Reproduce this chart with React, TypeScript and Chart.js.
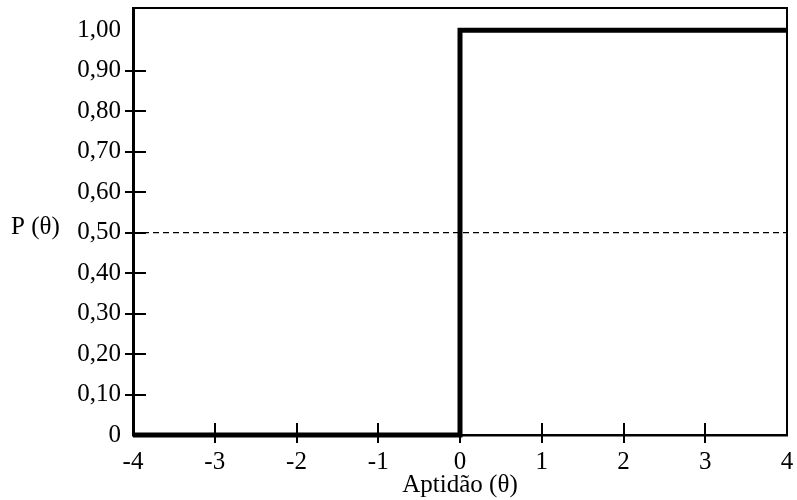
import React, { useEffect, useRef } from "react";
import { Chart, registerables } from "chart.js";

Chart.register(...registerables);

const stepX = [-4, 0, 0, 4];
const stepY = [0, 0, 1, 1];
const refX = [-4, 4];
const refY = [0.5, 0.5];
const xTicks = [-4, -3, -2, -1, 0, 1, 2, 3, 4];
const xTickLabels = ["-4", "-3", "-2", "-1", "0", "1", "2", "3", "4"];
const yTicks = [0, 0.1, 0.2, 0.3, 0.4, 0.5, 0.6, 0.7, 0.8, 0.9, 1.0];
const yTickLabels = ["0", "0,10", "0,20", "0,30", "0,40", "0,50", "0,60", "0,70", "0,80", "0,90", "1,00"];
const xTitle = "Aptidão (θ)";
const yTitle = "P (θ)";

const FONT = '"Liberation Serif", "Times New Roman", serif';

const framePlugin = {
  id: "frame",
  afterDraw(chart: any) {
    const { ctx, chartArea } = chart;
    const { left, right, top, bottom } = chartArea;
    const x = chart.scales.x;
    const y = chart.scales.y;
    ctx.save();
    ctx.strokeStyle = "#000";
    ctx.lineWidth = 2;
    ctx.beginPath();
    ctx.moveTo(left, top);
    ctx.lineTo(right, top);
    ctx.lineTo(right, bottom);
    ctx.stroke();
    ctx.beginPath();
    yTicks.forEach((v) => {
      if (v === 0 || v === 1) return;
      const py = Math.round(y.getPixelForValue(v));
      ctx.moveTo(left - 8, py);
      ctx.lineTo(left + 13, py);
    });
    xTicks.forEach((v) => {
      if (v === -4 || v === 4) return;
      const px = Math.round(x.getPixelForValue(v));
      ctx.moveTo(px, bottom - 12);
      ctx.lineTo(px, bottom + 8);
    });
    ctx.stroke();
    ctx.fillStyle = "#000";
    ctx.font = `25px ${FONT}`;
    ctx.textAlign = "left";
    ctx.textBaseline = "middle";
    ctx.fillText(yTitle, 11, (top + bottom) / 2 + 6);
    ctx.restore();
  },
};

export default function App() {
  const ref = useRef<HTMLCanvasElement | null>(null);
  useEffect(() => {
    if (!ref.current) return;
    const chart = new Chart(ref.current, {
      type: "line",
      data: {
        datasets: [
          {
            data: stepX.map((v, i) => ({ x: v, y: stepY[i] })),
            borderColor: "#000",
            borderWidth: 5,
            pointRadius: 0,
            fill: false,
            tension: 0,
            clip: false as any,
          },
          {
            data: refX.map((v, i) => ({ x: v, y: refY[i] })),
            borderColor: "#000",
            borderWidth: 1.3,
            borderDash: [6, 4],
            pointRadius: 0,
            fill: false,
            tension: 0,
          },
        ],
      },
      options: {
        animation: false,
        responsive: true,
        maintainAspectRatio: false,
        layout: { padding: { top: 8, right: 10, bottom: 0, left: 0 } },
        plugins: { legend: { display: false }, tooltip: { enabled: false } },
        scales: {
          x: {
            type: "linear",
            min: -4,
            max: 4,
            afterBuildTicks: (s: any) => {
              s.ticks = xTicks.map((v) => ({ value: v }));
            },
            afterFit: (s: any) => {
              s.height = 65;
              s.paddingLeft = 0;
              s.paddingRight = 0;
              s.paddingTop = 0;
              s.paddingBottom = 0;
            },
            grid: { display: false },
            border: { display: true, color: "#000", width: 2.5 },
            ticks: {
              color: "#000",
              font: { family: FONT, size: 25 },
              padding: 4,
              maxRotation: 0,
              autoSkip: false,
              callback: (_v: any, i: number) => xTickLabels[i],
            },
            title: {
              display: true,
              text: xTitle,
              color: "#000",
              font: { family: FONT, size: 25 },
              padding: { top: 0, bottom: 0 },
            },
          },
          y: {
            type: "linear",
            min: 0,
            max: 1.055,
            afterBuildTicks: (s: any) => {
              s.ticks = yTicks.map((v) => ({ value: v }));
            },
            afterFit: (s: any) => {
              s.width = 133;
              s.paddingLeft = 0;
              s.paddingRight = 0;
              s.paddingTop = 0;
              s.paddingBottom = 0;
            },
            grid: { display: false },
            border: { display: true, color: "#000", width: 3 },
            ticks: {
              color: "#000",
              font: { family: FONT, size: 25 },
              padding: 4,
              autoSkip: false,
              callback: (_v: any, i: number) => yTickLabels[i],
            },
          },
        },
      },
      plugins: [framePlugin],
    });
    return () => chart.destroy();
  }, []);
  return (
    <div style={{ position: "fixed", left: 0, top: 0, width: 797, height: 500, background: "#fff" }}>
      <canvas ref={ref} />
    </div>
  );
}
